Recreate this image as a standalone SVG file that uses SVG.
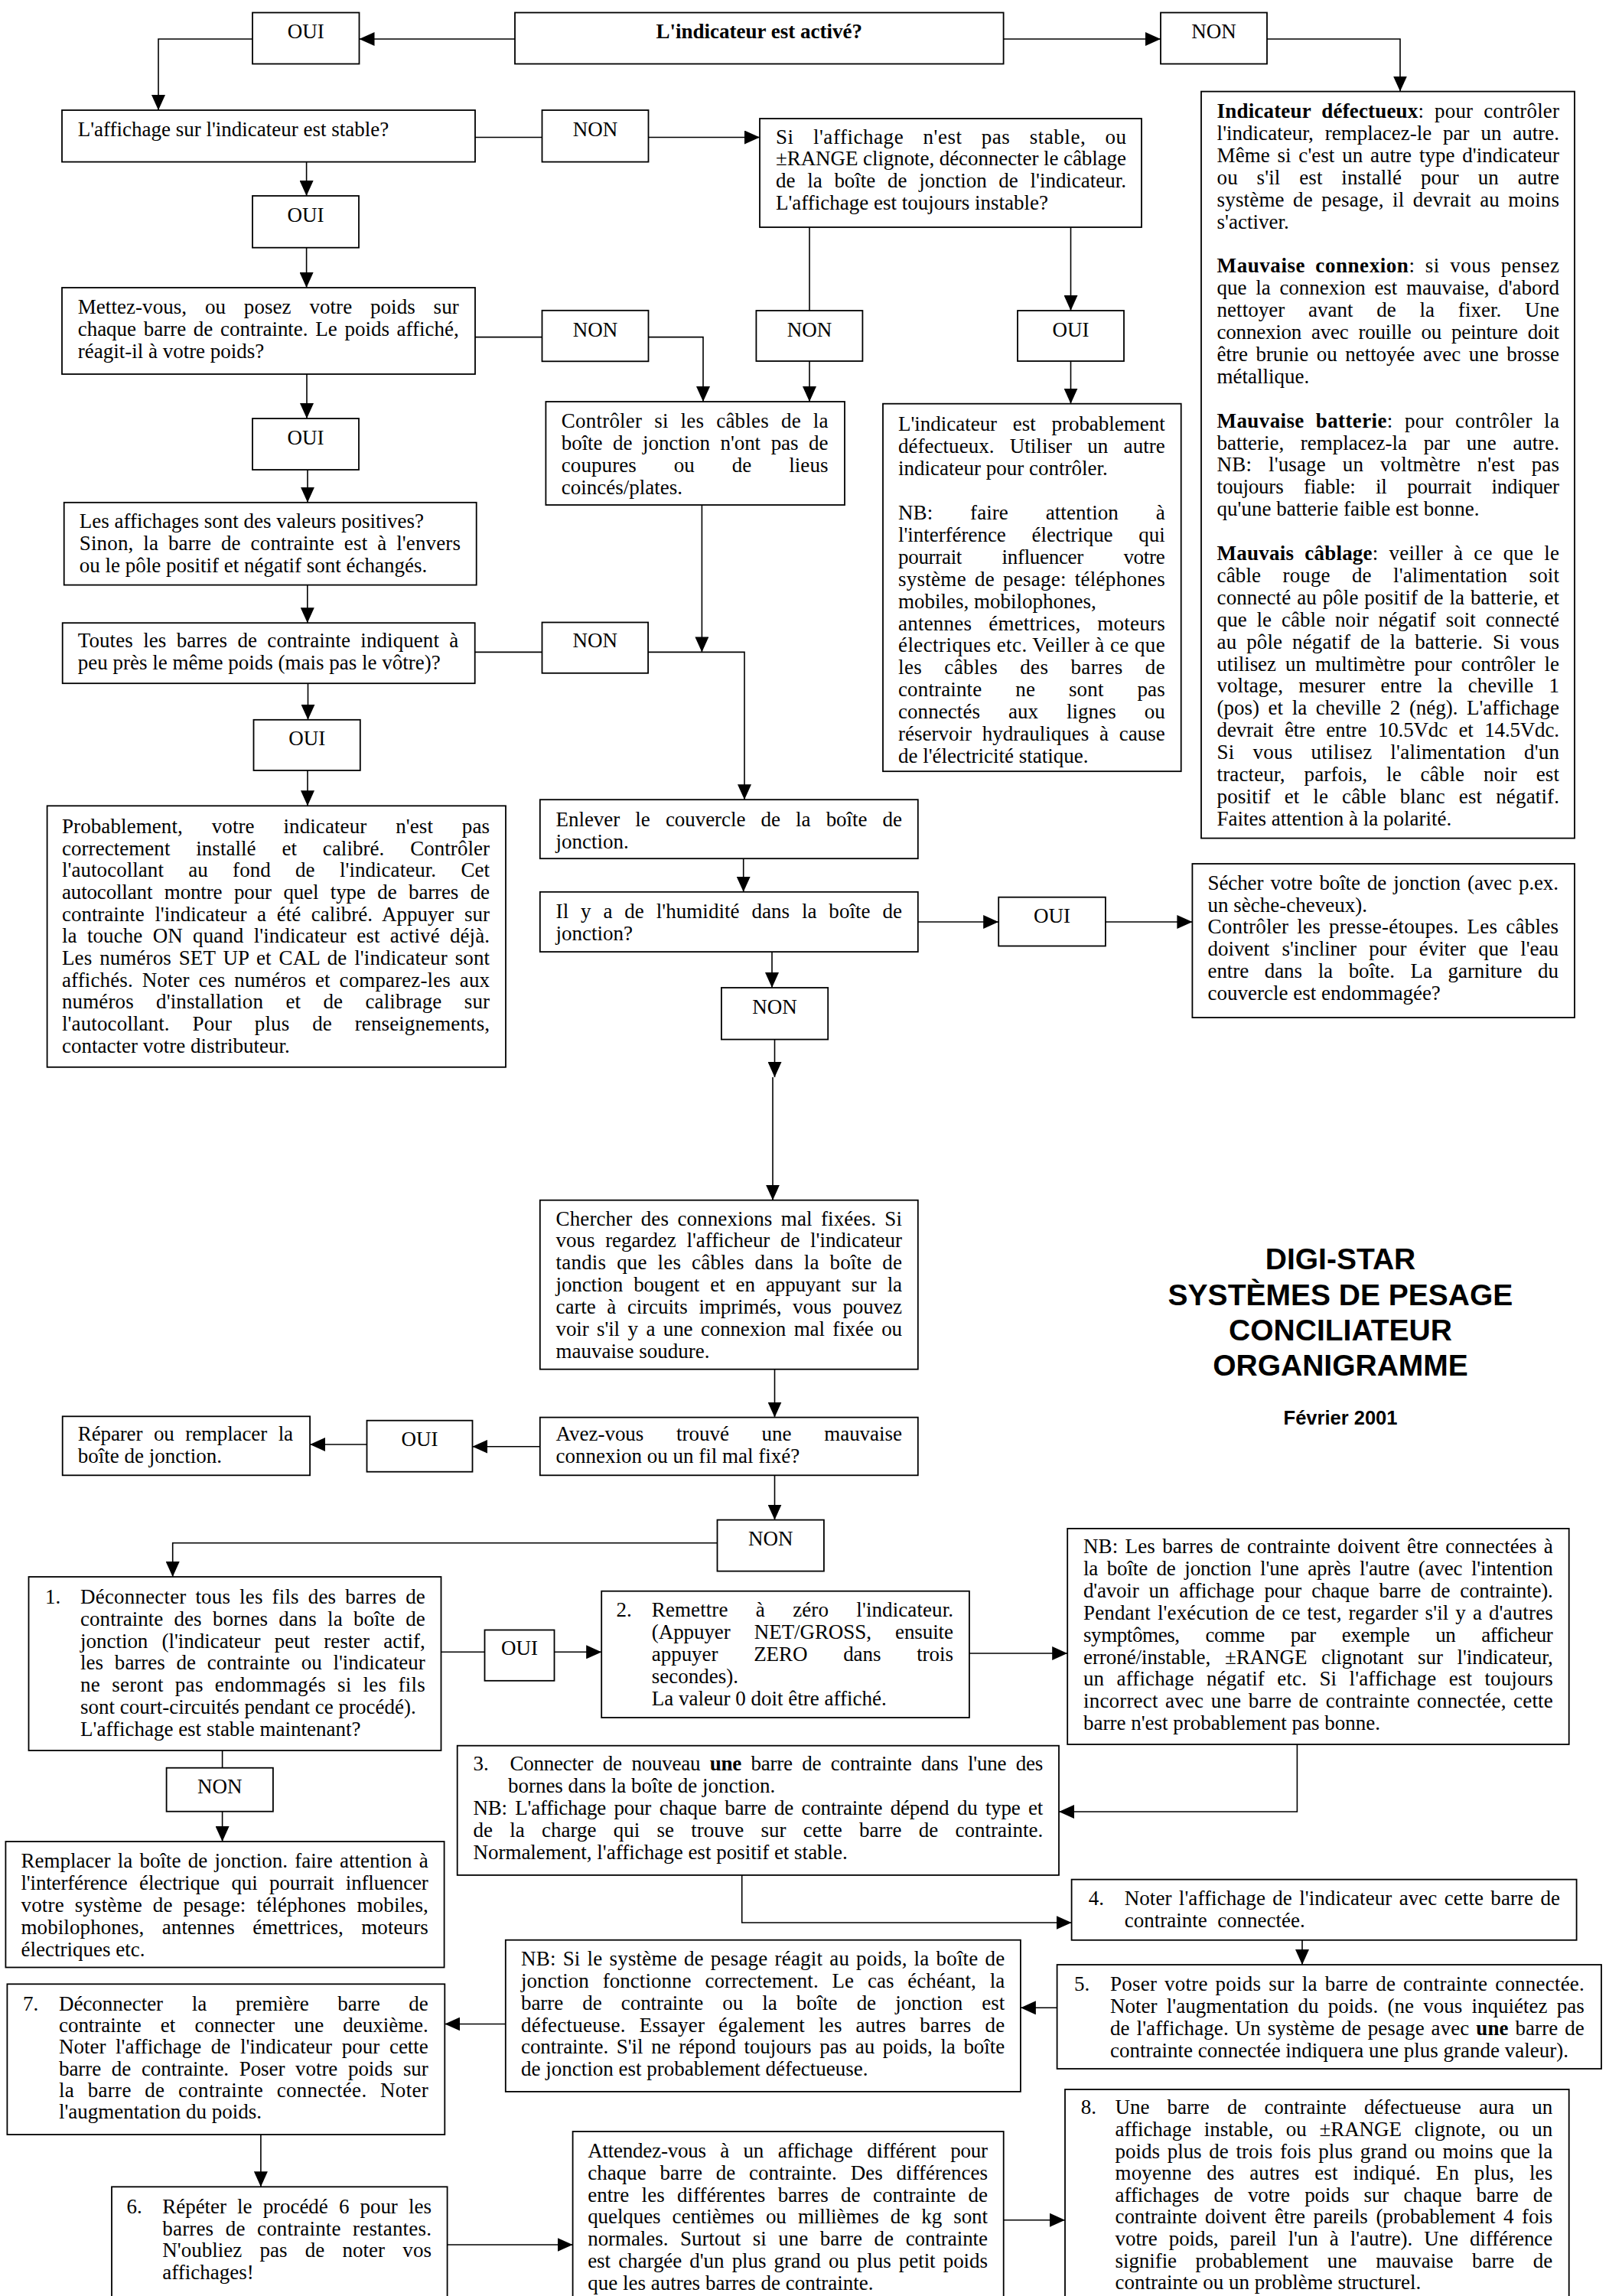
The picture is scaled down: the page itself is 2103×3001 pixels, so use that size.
<svg xmlns="http://www.w3.org/2000/svg" width="2103" height="3001" viewBox="0 0 2103 3001">
<defs>
<style>
.b{fill:#fff;stroke:#000;stroke-width:1.8}
.t{font-family:"Liberation Serif","Times New Roman",serif;font-size:27px;fill:#000}
.c{text-anchor:middle}
.bd{font-weight:bold}
.k{fill:none;stroke:#000;stroke-width:1.6}
.a{marker-end:url(#ah)}
.h{font-family:"Liberation Sans",Arial,sans-serif;font-weight:bold;fill:#000;text-anchor:middle}
</style>
<marker id="ah" markerUnits="userSpaceOnUse" markerWidth="20" markerHeight="18" refX="20" refY="9" orient="auto">
<path d="M0,0 L20,9 L0,18 Z" fill="#000"/>
</marker>
</defs>
<rect width="2103" height="3001" fill="#fff"/>

<g id="connectors">
<path class="k a" d="M673,51 H469.5"/>
<path class="k a" d="M330,51 H207 V144"/>
<path class="k a" d="M1311.6,51 H1517"/>
<path class="k a" d="M1656,51 H1830 V119.6"/>
<path class="k" d="M621,179.5 H708.5"/>
<path class="k a" d="M847.5,179.5 H993"/>
<path class="k a" d="M400.6,211.6 V256"/>
<path class="k a" d="M400.6,323.7 V376"/>
<path class="k" d="M621,440.6 H708.5"/>
<path class="k a" d="M847.5,440.6 H919 V525"/>
<path class="k" d="M1058,297 V406"/>
<path class="k a" d="M1058,472 V525"/>
<path class="k a" d="M1399.5,297 V406"/>
<path class="k a" d="M1399.5,472 V527.7"/>
<path class="k a" d="M401,489 V547"/>
<path class="k a" d="M402,614 V656.8"/>
<path class="k a" d="M401.8,764.6 V814.2"/>
<path class="k" d="M620.8,852.4 H708.5"/>
<path class="k a" d="M847,852.4 H973 V1045.2"/>
<path class="k a" d="M917.4,660 V852.4"/>
<path class="k a" d="M402.5,893.2 V940.8"/>
<path class="k a" d="M402,1007 V1053.3"/>
<path class="k a" d="M971.7,1122.2 V1165.8"/>
<path class="k a" d="M1199.8,1205 H1305.2"/>
<path class="k a" d="M1445,1205 H1558.4"/>
<path class="k a" d="M1009,1244 V1291"/>
<path class="k a" d="M1012.5,1358.6 V1408"/>
<path class="k a" d="M1010,1408 V1568.7"/>
<path class="k a" d="M1012.5,1789.7 V1852.6"/>
<path class="k a" d="M705.8,1890.8 H617.4"/>
<path class="k a" d="M479.5,1888 H405.1"/>
<path class="k a" d="M1012.5,1928.3 V1986.6"/>
<path class="k a" d="M937.5,2016.7 H225.7 V2061"/>
<path class="k" d="M576.6,2159.3 H633.5"/>
<path class="k a" d="M724.6,2159.3 H786.2"/>
<path class="k a" d="M1266.9,2161 H1395.2"/>
<path class="k a" d="M1695.4,2280 V2368 H1384"/>
<path class="k" d="M290.6,2288 V2310.7"/>
<path class="k a" d="M290.6,2367.6 V2407"/>
<path class="k a" d="M969.7,2450.9 V2513 H1400.6"/>
<path class="k a" d="M1702,2535.8 V2568"/>
<path class="k a" d="M1381.6,2624.3 H1333.9"/>
<path class="k a" d="M660.8,2645.5 H581.3"/>
<path class="k a" d="M340.9,2790 V2858.3"/>
<path class="k a" d="M584.6,2934 H748.6"/>
<path class="k a" d="M1311.7,2901.7 H1392"/>
</g>

<g id="q-active">
<rect class="b" x="673" y="16.5" width="638.6" height="67"/>
<text class="t c bd" x="992.3" y="50">L'indicateur est activé?</text>
</g>
<g id="oui1"><rect class="b" x="330" y="16.5" width="139.5" height="67"/><text class="t c" x="399.7" y="50">OUI</text></g>
<g id="non1"><rect class="b" x="1517" y="16.5" width="139" height="67"/><text class="t c" x="1586.5" y="50">NON</text></g>

<g id="causes">
<rect class="b" x="1570" y="119.6" width="488" height="976"/>
<text class="t" x="1590.6" y="154" textLength="447.4" lengthAdjust="spacing" word-spacing="7"><tspan class="bd">Indicateur défectueux</tspan>: pour contrôler</text>
<text class="t" x="1590.6" y="182.9" textLength="447.4" lengthAdjust="spacing" word-spacing="8">l'indicateur, remplacez-le par un autre.</text>
<text class="t" x="1590.6" y="211.8" textLength="447.4" lengthAdjust="spacing" word-spacing="3">Même si c'est un autre type d'indicateur</text>
<text class="t" x="1590.6" y="240.7" textLength="447.4" lengthAdjust="spacing" word-spacing="18">ou s'il est installé pour un autre</text>
<text class="t" x="1590.6" y="269.6" textLength="447.4" lengthAdjust="spacing" word-spacing="4.5">système de pesage, il devrait au moins</text>
<text class="t" x="1590.6" y="298.5">s'activer.</text>
<text class="t" x="1590.6" y="356.3" textLength="447.4" lengthAdjust="spacing" word-spacing="6"><tspan class="bd">Mauvaise connexion</tspan>: si vous pensez</text>
<text class="t" x="1590.6" y="385.2" textLength="447.4" lengthAdjust="spacing" word-spacing="5">que la connexion est mauvaise, d'abord</text>
<text class="t" x="1590.6" y="414.1" textLength="447.4" lengthAdjust="spacing" word-spacing="24">nettoyer avant de la fixer. Une</text>
<text class="t" x="1590.6" y="443" textLength="447.4" lengthAdjust="spacing" word-spacing="6.5">connexion avec rouille ou peinture doit</text>
<text class="t" x="1590.6" y="471.9" textLength="447.4" lengthAdjust="spacing" word-spacing="4">être brunie ou nettoyée avec une brosse</text>
<text class="t" x="1590.6" y="500.8">métallique.</text>
<text class="t" x="1590.6" y="558.6" textLength="447.4" lengthAdjust="spacing" word-spacing="8"><tspan class="bd">Mauvaise batterie</tspan>: pour contrôler la</text>
<text class="t" x="1590.6" y="587.5" textLength="447.4" lengthAdjust="spacing" word-spacing="15">batterie, remplacez-la par une autre.</text>
<text class="t" x="1590.6" y="616.4" textLength="447.4" lengthAdjust="spacing" word-spacing="15">NB: l'usage un voltmètre n'est pas</text>
<text class="t" x="1590.6" y="645.3" textLength="447.4" lengthAdjust="spacing" word-spacing="20">toujours fiable: il pourrait indiquer</text>
<text class="t" x="1590.6" y="674.2">qu'une batterie faible est bonne.</text>
<text class="t" x="1590.6" y="732" textLength="447.4" lengthAdjust="spacing" word-spacing="7"><tspan class="bd">Mauvais câblage</tspan>: veiller à ce que le</text>
<text class="t" x="1590.6" y="760.9" textLength="447.4" lengthAdjust="spacing" word-spacing="21.5">câble rouge de l'alimentation soit</text>
<text class="t" x="1590.6" y="789.8" textLength="447.4" lengthAdjust="spacing" word-spacing="1">connecté au pôle positif de la batterie, et</text>
<text class="t" x="1590.6" y="818.7" textLength="447.4" lengthAdjust="spacing" word-spacing="6">que le câble noir négatif soit connecté</text>
<text class="t" x="1590.6" y="847.6" textLength="447.4" lengthAdjust="spacing" word-spacing="6">au pôle négatif de la batterie. Si vous</text>
<text class="t" x="1590.6" y="876.5" textLength="447.4" lengthAdjust="spacing" word-spacing="5.5">utilisez un multimètre pour contrôler le</text>
<text class="t" x="1590.6" y="905.4" textLength="447.4" lengthAdjust="spacing" word-spacing="13.5">voltage, mesurer entre la cheville 1</text>
<text class="t" x="1590.6" y="934.3" textLength="447.4" lengthAdjust="spacing" word-spacing="5">(pos) et la cheville 2 (nég). L'affichage</text>
<text class="t" x="1590.6" y="963.2" textLength="447.4" lengthAdjust="spacing" word-spacing="8">devrait être entre 10.5Vdc et 14.5Vdc.</text>
<text class="t" x="1590.6" y="992.1" textLength="447.4" lengthAdjust="spacing" word-spacing="17">Si vous utilisez l'alimentation d'un</text>
<text class="t" x="1590.6" y="1021" textLength="447.4" lengthAdjust="spacing" word-spacing="18">tracteur, parfois, le câble noir est</text>
<text class="t" x="1590.6" y="1049.9" textLength="447.4" lengthAdjust="spacing" word-spacing="11">positif et le câble blanc est négatif.</text>
<text class="t" x="1590.6" y="1078.8">Faites attention à la polarité.</text>
</g>

<g id="q-stable">
<rect class="b" x="81" y="144" width="540" height="67.6"/>
<text class="t" x="101.7" y="177.7">L'affichage sur l'indicateur est stable?</text>
</g>
<g id="non2"><rect class="b" x="708.5" y="144" width="139" height="67.6"/><text class="t c" x="778" y="177.7">NON</text></g>

<g id="q-instable">
<rect class="b" x="993" y="155" width="499" height="142"/>
<text class="t" x="1014" y="187.5" textLength="458" lengthAdjust="spacing" word-spacing="18">Si l'affichage n'est pas stable, ou</text>
<text class="t" x="1014" y="216.4" textLength="458" lengthAdjust="spacing">±RANGE clignote, déconnecter le câblage</text>
<text class="t" x="1014" y="245.3" textLength="458" lengthAdjust="spacing" word-spacing="9">de la boîte de jonction de l'indicateur.</text>
<text class="t" x="1014" y="274.2">L'affichage est toujours instable?</text>
</g>

<g id="oui2"><rect class="b" x="330" y="256" width="139" height="67.7"/><text class="t c" x="399.5" y="290">OUI</text></g>

<g id="q-poids">
<rect class="b" x="81" y="376" width="540" height="113"/>
<text class="t" x="101.7" y="409.8" textLength="498" lengthAdjust="spacing" word-spacing="17">Mettez-vous, ou posez votre poids sur</text>
<text class="t" x="101.7" y="438.7" textLength="498" lengthAdjust="spacing" word-spacing="3">chaque barre de contrainte. Le poids affiché,</text>
<text class="t" x="101.7" y="467.6">réagit-il à votre poids?</text>
</g>
<g id="non3"><rect class="b" x="708.5" y="405.8" width="139" height="66.5"/><text class="t c" x="778" y="439.5">NON</text></g>
<g id="non4"><rect class="b" x="988.4" y="406" width="139" height="66"/><text class="t c" x="1058" y="439.5">NON</text></g>
<g id="oui5"><rect class="b" x="1330" y="406" width="139" height="66"/><text class="t c" x="1399.5" y="439.5">OUI</text></g>

<g id="controler-cables">
<rect class="b" x="713.4" y="525" width="390.6" height="135"/>
<text class="t" x="733.8" y="559" textLength="348.7" lengthAdjust="spacing" word-spacing="9">Contrôler si les câbles de la</text>
<text class="t" x="733.8" y="588" textLength="348.7" lengthAdjust="spacing" word-spacing="7">boîte de jonction n'ont pas de</text>
<text class="t" x="733.8" y="617" textLength="348.7" lengthAdjust="spacing" word-spacing="42">coupures ou de lieus</text>
<text class="t" x="733.8" y="646">coincés/plates.</text>
</g>

<g id="indicateur-defectueux">
<rect class="b" x="1154" y="527.7" width="389.7" height="480.5"/>
<text class="t" x="1174" y="563.4" textLength="348.7" lengthAdjust="spacing" word-spacing="14">L'indicateur est probablement</text>
<text class="t" x="1174" y="592.3" textLength="348.7" lengthAdjust="spacing" word-spacing="13.5">défectueux. Utiliser un autre</text>
<text class="t" x="1174" y="621.2">indicateur pour contrôler.</text>
<text class="t" x="1174" y="679" textLength="348.7" lengthAdjust="spacing" word-spacing="42">NB: faire attention à</text>
<text class="t" x="1174" y="707.9" textLength="348.7" lengthAdjust="spacing" word-spacing="27">l'interférence électrique qui</text>
<text class="t" x="1174" y="736.8" textLength="348.7" lengthAdjust="spacing" word-spacing="46">pourrait influencer votre</text>
<text class="t" x="1174" y="765.7" textLength="348.7" lengthAdjust="spacing" word-spacing="4">système de pesage: téléphones</text>
<text class="t" x="1174" y="794.6">mobiles, mobilophones,</text>
<text class="t" x="1174" y="823.5" textLength="348.7" lengthAdjust="spacing" word-spacing="15">antennes émettrices, moteurs</text>
<text class="t" x="1174" y="852.4" textLength="348.7" lengthAdjust="spacing">électriques etc. Veiller à ce que</text>
<text class="t" x="1174" y="881.3" textLength="348.7" lengthAdjust="spacing" word-spacing="22">les câbles des barres de</text>
<text class="t" x="1174" y="910.2" textLength="348.7" lengthAdjust="spacing" word-spacing="37">contrainte ne sont pas</text>
<text class="t" x="1174" y="939.1" textLength="348.7" lengthAdjust="spacing" word-spacing="30">connectés aux lignes ou</text>
<text class="t" x="1174" y="968" textLength="348.7" lengthAdjust="spacing" word-spacing="7">réservoir hydrauliques à cause</text>
<text class="t" x="1174" y="996.9">de l'électricité statique.</text>
</g>

<g id="oui6"><rect class="b" x="330" y="547" width="139" height="67"/><text class="t c" x="399.5" y="580.5">OUI</text></g>

<g id="q-positives">
<rect class="b" x="83.7" y="656.8" width="539" height="107.8"/>
<text class="t" x="103.8" y="690">Les affichages sont des valeurs positives?</text>
<text class="t" x="103.8" y="719" textLength="498.2" lengthAdjust="spacing" word-spacing="6">Sinon, la barre de contrainte est à l'envers</text>
<text class="t" x="103.8" y="747.5">ou le pôle positif et négatif sont échangés.</text>
</g>

<g id="q-meme-poids">
<rect class="b" x="81.7" y="814.2" width="539" height="79"/>
<text class="t" x="101.8" y="846.3" textLength="497.5" lengthAdjust="spacing" word-spacing="6.5">Toutes les barres de contrainte indiquent à</text>
<text class="t" x="101.8" y="875.2">peu près le même poids (mais pas le vôtre)?</text>
</g>
<g id="non7"><rect class="b" x="708.5" y="813.5" width="138.6" height="66.3"/><text class="t c" x="777.8" y="846.3">NON</text></g>
<g id="oui8"><rect class="b" x="331.5" y="940.8" width="139.3" height="66.2"/><text class="t c" x="401.2" y="973.6">OUI</text></g>

<g id="calibrage">
<rect class="b" x="61.6" y="1053.3" width="599.4" height="341.5"/>
<text class="t" x="81" y="1088.8" textLength="559" lengthAdjust="spacing" word-spacing="31">Probablement, votre indicateur n'est pas</text>
<text class="t" x="81" y="1117.5" textLength="559" lengthAdjust="spacing" word-spacing="27">correctement installé et calibré. Contrôler</text>
<text class="t" x="81" y="1146.2" textLength="559" lengthAdjust="spacing" word-spacing="25.5">l'autocollant au fond de l'indicateur. Cet</text>
<text class="t" x="81" y="1174.9" textLength="559" lengthAdjust="spacing" word-spacing="9">autocollant montre pour quel type de barres de</text>
<text class="t" x="81" y="1203.6" textLength="559" lengthAdjust="spacing" word-spacing="7">contrainte l'indicateur a été calibré. Appuyer sur</text>
<text class="t" x="81" y="1232.3" textLength="559" lengthAdjust="spacing" word-spacing="6.5">la touche ON quand l'indicateur est activé déjà.</text>
<text class="t" x="81" y="1261" textLength="559" lengthAdjust="spacing" word-spacing="3">Les numéros SET UP et CAL de l'indicateur sont</text>
<text class="t" x="81" y="1289.7" textLength="559" lengthAdjust="spacing" word-spacing="5">affichés. Noter ces numéros et comparez-les aux</text>
<text class="t" x="81" y="1318.4" textLength="559" lengthAdjust="spacing" word-spacing="22.5">numéros d'installation et de calibrage sur</text>
<text class="t" x="81" y="1347.1" textLength="559" lengthAdjust="spacing" word-spacing="23">l'autocollant. Pour plus de renseignements,</text>
<text class="t" x="81" y="1375.8">contacter votre distributeur.</text>
</g>

<g id="enlever">
<rect class="b" x="705.8" y="1045.2" width="494" height="77"/>
<text class="t" x="726.6" y="1080" textLength="452.4" lengthAdjust="spacing" word-spacing="13.5">Enlever le couvercle de la boîte de</text>
<text class="t" x="726.6" y="1109">jonction.</text>
</g>

<g id="q-humidite">
<rect class="b" x="705.8" y="1165.8" width="494" height="78.3"/>
<text class="t" x="726.6" y="1200" textLength="452.4" lengthAdjust="spacing" word-spacing="9">Il y a de l'humidité dans la boîte de</text>
<text class="t" x="726.6" y="1229">jonction?</text>
</g>
<g id="oui10"><rect class="b" x="1305.2" y="1172.7" width="139.7" height="63.8"/><text class="t c" x="1375" y="1205.6">OUI</text></g>

<g id="secher">
<rect class="b" x="1558.4" y="1129" width="499.6" height="201"/>
<text class="t" x="1578.5" y="1162.6" textLength="458.5" lengthAdjust="spacing" word-spacing="2.5">Sécher votre boîte de jonction (avec p.ex.</text>
<text class="t" x="1578.5" y="1191.5">un sèche-cheveux).</text>
<text class="t" x="1578.5" y="1220.4" textLength="458.5" lengthAdjust="spacing" word-spacing="4">Contrôler les presse-étoupes. Les câbles</text>
<text class="t" x="1578.5" y="1249.3" textLength="458.5" lengthAdjust="spacing" word-spacing="9.5">doivent s'incliner pour éviter que l'eau</text>
<text class="t" x="1578.5" y="1278.2" textLength="458.5" lengthAdjust="spacing" word-spacing="14">entre dans la boîte. La garniture du</text>
<text class="t" x="1578.5" y="1307.1">couvercle est endommagée?</text>
</g>

<g id="non9"><rect class="b" x="942.9" y="1291" width="139.3" height="67.6"/><text class="t c" x="1012.5" y="1324.5">NON</text></g>

<g id="chercher">
<rect class="b" x="705.8" y="1568.7" width="494" height="221"/>
<text class="t" x="726.6" y="1601.5" textLength="452.4" lengthAdjust="spacing" word-spacing="4.5">Chercher des connexions mal fixées. Si</text>
<text class="t" x="726.6" y="1630.4" textLength="452.4" lengthAdjust="spacing" word-spacing="7">vous regardez l'afficheur de l'indicateur</text>
<text class="t" x="726.6" y="1659.3" textLength="452.4" lengthAdjust="spacing" word-spacing="7">tandis que les câbles dans la boîte de</text>
<text class="t" x="726.6" y="1688.2" textLength="452.4" lengthAdjust="spacing" word-spacing="7.5">jonction bougent et en appuyant sur la</text>
<text class="t" x="726.6" y="1717.1" textLength="452.4" lengthAdjust="spacing" word-spacing="8">carte à circuits imprimés, vous pouvez</text>
<text class="t" x="726.6" y="1746" textLength="452.4" lengthAdjust="spacing" word-spacing="4">voir s'il y a une connexion mal fixée ou</text>
<text class="t" x="726.6" y="1774.9">mauvaise soudure.</text>
</g>

<g id="title">
<text class="h" x="1752" y="1659.4" font-size="39">DIGI-STAR</text>
<text class="h" x="1752" y="1705.5" font-size="39">SYSTÈMES DE PESAGE</text>
<text class="h" x="1752" y="1751.5" font-size="39">CONCILIATEUR</text>
<text class="h" x="1752" y="1798" font-size="39">ORGANIGRAMME</text>
<text class="h" x="1752" y="1862" font-size="25.5">Février 2001</text>
</g>

<g id="q-trouve">
<rect class="b" x="705.8" y="1852.6" width="494" height="75.7"/>
<text class="t" x="726.6" y="1883.4" textLength="452.4" lengthAdjust="spacing" word-spacing="36">Avez-vous trouvé une mauvaise</text>
<text class="t" x="726.6" y="1912.3">connexion ou un fil mal fixé?</text>
</g>
<g id="oui11"><rect class="b" x="479.5" y="1856.7" width="138" height="67"/><text class="t c" x="548.5" y="1890">OUI</text></g>
<g id="reparer">
<rect class="b" x="81.7" y="1851.3" width="323.4" height="77"/>
<text class="t" x="101.8" y="1883.4" textLength="281.2" lengthAdjust="spacing" word-spacing="8">Réparer ou remplacer la</text>
<text class="t" x="101.8" y="1912.3">boîte de jonction.</text>
</g>
<g id="non12"><rect class="b" x="937.5" y="1986.6" width="139.4" height="67"/><text class="t c" x="1007.2" y="2020">NON</text></g>

<g id="step1">
<rect class="b" x="37.5" y="2061" width="539" height="227"/>
<text class="t" x="58.9" y="2095.7">1.</text>
<text class="t" x="105.1" y="2095.7" textLength="450.7" lengthAdjust="spacing" word-spacing="5">Déconnecter tous les fils des barres de</text>
<text class="t" x="105.1" y="2124.6" textLength="450.7" lengthAdjust="spacing" word-spacing="7.5">contrainte des bornes dans la boîte de</text>
<text class="t" x="105.1" y="2153.5" textLength="450.7" lengthAdjust="spacing" word-spacing="11.5">jonction (l'indicateur peut rester actif,</text>
<text class="t" x="105.1" y="2182.4" textLength="450.7" lengthAdjust="spacing" word-spacing="8">les barres de contrainte ou l'indicateur</text>
<text class="t" x="105.1" y="2211.3" textLength="450.7" lengthAdjust="spacing" word-spacing="8">ne seront pas endommagés si les fils</text>
<text class="t" x="105.1" y="2240.2">sont court-circuités pendant ce procédé).</text>
<text class="t" x="105.1" y="2269.1">L'affichage est stable maintenant?</text>
</g>
<g id="oui13"><rect class="b" x="633.5" y="2130.5" width="91" height="66.3"/><text class="t c" x="679" y="2162.7">OUI</text></g>

<g id="step2">
<rect class="b" x="786.2" y="2079.7" width="480.7" height="165.3"/>
<text class="t" x="805.6" y="2113">2.</text>
<text class="t" x="851.8" y="2113" textLength="394.2" lengthAdjust="spacing" word-spacing="29.5">Remettre à zéro l'indicateur.</text>
<text class="t" x="851.8" y="2141.9" textLength="394.2" lengthAdjust="spacing" word-spacing="24.5">(Appuyer NET/GROSS, ensuite</text>
<text class="t" x="851.8" y="2170.8" textLength="394.2" lengthAdjust="spacing" word-spacing="40">appuyer ZERO dans trois</text>
<text class="t" x="851.8" y="2199.7">secondes).</text>
<text class="t" x="851.8" y="2228.6">La valeur 0 doit être affiché.</text>
</g>

<g id="nb-connexion">
<rect class="b" x="1395.2" y="1997.9" width="655.5" height="282.1"/>
<text class="t" x="1416" y="2030" textLength="613.8" lengthAdjust="spacing" word-spacing="2.5">NB: Les barres de contrainte doivent être connectées à</text>
<text class="t" x="1416" y="2058.9" textLength="613.8" lengthAdjust="spacing" word-spacing="5">la boîte de jonction l'une après l'autre (avec l'intention</text>
<text class="t" x="1416" y="2087.8" textLength="613.8" lengthAdjust="spacing" word-spacing="6.5">d'avoir un affichage pour chaque barre de contrainte).</text>
<text class="t" x="1416" y="2116.7" textLength="613.8" lengthAdjust="spacing" word-spacing="2">Pendant l'exécution de ce test, regarder s'il y a d'autres</text>
<text class="t" x="1416" y="2145.6" textLength="613.8" lengthAdjust="spacing" word-spacing="27.5">symptômes, comme par exemple un afficheur</text>
<text class="t" x="1416" y="2174.5" textLength="613.8" lengthAdjust="spacing" word-spacing="12">erroné/instable, ±RANGE clignotant sur l'indicateur,</text>
<text class="t" x="1416" y="2203.4" textLength="613.8" lengthAdjust="spacing" word-spacing="9.5">un affichage négatif etc. Si l'affichage est toujours</text>
<text class="t" x="1416" y="2232.3" textLength="613.8" lengthAdjust="spacing" word-spacing="2.5">incorrect avec une barre de contrainte connectée, cette</text>
<text class="t" x="1416" y="2261.2">barre n'est probablement pas bonne.</text>
</g>

<g id="non14"><rect class="b" x="217.6" y="2310.7" width="139.3" height="57"/><text class="t c" x="287.2" y="2343.5">NON</text></g>

<g id="remplacer">
<rect class="b" x="7.4" y="2407" width="573.2" height="164.5"/>
<text class="t" x="27.5" y="2440.6" textLength="532.3" lengthAdjust="spacing" word-spacing="2.5">Remplacer la boîte de jonction. faire attention à</text>
<text class="t" x="27.5" y="2469.8" textLength="532.3" lengthAdjust="spacing" word-spacing="9">l'interférence électrique qui pourrait influencer</text>
<text class="t" x="27.5" y="2499" textLength="532.3" lengthAdjust="spacing" word-spacing="7">votre système de pesage: téléphones mobiles,</text>
<text class="t" x="27.5" y="2528.2" textLength="532.3" lengthAdjust="spacing" word-spacing="16.5">mobilophones, antennes émettrices, moteurs</text>
<text class="t" x="27.5" y="2557.4">électriques etc.</text>
</g>

<g id="step3">
<rect class="b" x="597.7" y="2281.7" width="786.3" height="169.2"/>
<text class="t" x="618.4" y="2314.3">3.</text>
<text class="t" x="666.5" y="2314.3" textLength="696.8" lengthAdjust="spacing" word-spacing="6">Connecter de nouveau <tspan class="bd">une</tspan> barre de contrainte dans l'une des</text>
<text class="t" x="663.9" y="2343.2">bornes dans la boîte de jonction.</text>
<text class="t" x="618.4" y="2372.1" textLength="744.9" lengthAdjust="spacing" word-spacing="4">NB: L'affichage pour chaque barre de contrainte dépend du type et</text>
<text class="t" x="618.4" y="2401" textLength="744.9" lengthAdjust="spacing" word-spacing="15.5">de la charge qui se trouve sur cette barre de contrainte.</text>
<text class="t" x="618.4" y="2429.9">Normalement, l'affichage est positif et stable.</text>
</g>

<g id="step4">
<rect class="b" x="1400.6" y="2456.6" width="660" height="79.2"/>
<text class="t" x="1422.7" y="2490.2">4.</text>
<text class="t" x="1469.7" y="2490.2" textLength="569.3" lengthAdjust="spacing" word-spacing="2.5">Noter l'affichage de l'indicateur avec cette barre de</text>
<text class="t" x="1469.7" y="2519" xml:space="preserve">contrainte  connectée.</text>
</g>

<g id="step5">
<rect class="b" x="1381.6" y="2568" width="711.4" height="136"/>
<text class="t" x="1404" y="2602">5.</text>
<text class="t" x="1451" y="2602" textLength="619.8" lengthAdjust="spacing" word-spacing="3">Poser votre poids sur la barre de contrainte connectée.</text>
<text class="t" x="1451" y="2630.9" textLength="619.8" lengthAdjust="spacing" word-spacing="5.5">Noter l'augmentation du poids. (ne vous inquiétez pas</text>
<text class="t" x="1451" y="2659.8" textLength="619.8" lengthAdjust="spacing" word-spacing="2">de l'affichage. Un système de pesage avec <tspan class="bd">une</tspan> barre de</text>
<text class="t" x="1451" y="2688.7">contrainte connectée indiquera une plus grande valeur).</text>
</g>

<g id="nb-reagit">
<rect class="b" x="660.8" y="2535.7" width="673.1" height="198.2"/>
<text class="t" x="681" y="2568.8" textLength="632.2" lengthAdjust="spacing" word-spacing="2">NB: Si le système de pesage réagit au poids, la boîte de</text>
<text class="t" x="681" y="2597.7" textLength="632.2" lengthAdjust="spacing" word-spacing="11">jonction fonctionne correctement. Le cas échéant, la</text>
<text class="t" x="681" y="2626.6" textLength="632.2" lengthAdjust="spacing" word-spacing="18.5">barre de contrainte ou la boîte de jonction est</text>
<text class="t" x="681" y="2655.5" textLength="632.2" lengthAdjust="spacing" word-spacing="11">défectueuse. Essayer également les autres barres de</text>
<text class="t" x="681" y="2684.4" textLength="632.2" lengthAdjust="spacing" word-spacing="4">contrainte. S'il ne répond toujours pas au poids, la boîte</text>
<text class="t" x="681" y="2713.3">de jonction est probablement défectueuse.</text>
</g>

<g id="step7">
<rect class="b" x="9.4" y="2593.3" width="571.9" height="196.7"/>
<text class="t" x="30" y="2627.7">7.</text>
<text class="t" x="77" y="2627.7" textLength="482.8" lengthAdjust="spacing" word-spacing="31">Déconnecter la première barre de</text>
<text class="t" x="77" y="2656" textLength="482.8" lengthAdjust="spacing" word-spacing="18.5">contrainte et connecter une deuxième.</text>
<text class="t" x="77" y="2684.3" textLength="482.8" lengthAdjust="spacing" word-spacing="6">Noter l'affichage de l'indicateur pour cette</text>
<text class="t" x="77" y="2712.6" textLength="482.8" lengthAdjust="spacing" word-spacing="7">barre de contrainte. Poser votre poids sur</text>
<text class="t" x="77" y="2740.9" textLength="482.8" lengthAdjust="spacing" word-spacing="10.5">la barre de contrainte connectée. Noter</text>
<text class="t" x="77" y="2769.2">l'augmentation du poids.</text>
</g>

<g id="step6">
<rect class="b" x="146" y="2858.3" width="438.6" height="160"/>
<text class="t" x="165.4" y="2893.3">6.</text>
<text class="t" x="212.3" y="2893.3" textLength="351.6" lengthAdjust="spacing" word-spacing="7.5">Répéter le procédé 6 pour les</text>
<text class="t" x="212.3" y="2921.7" textLength="351.6" lengthAdjust="spacing" word-spacing="8.5">barres de contrainte restantes.</text>
<text class="t" x="212.3" y="2950.1" textLength="351.6" lengthAdjust="spacing" word-spacing="16.5">N'oubliez pas de noter vos</text>
<text class="t" x="212.3" y="2978.5">affichages!</text>
</g>

<g id="attendez">
<rect class="b" x="748.6" y="2786" width="563.1" height="240"/>
<text class="t" x="768.2" y="2820" textLength="522.8" lengthAdjust="spacing" word-spacing="12">Attendez-vous à un affichage différent pour</text>
<text class="t" x="768.2" y="2848.8" textLength="522.8" lengthAdjust="spacing" word-spacing="11">chaque barre de contrainte. Des différences</text>
<text class="t" x="768.2" y="2877.5" textLength="522.8" lengthAdjust="spacing" word-spacing="9.5">entre les différentes barres de contrainte de</text>
<text class="t" x="768.2" y="2906.3" textLength="522.8" lengthAdjust="spacing" word-spacing="8.5">quelques centièmes ou millièmes de kg sont</text>
<text class="t" x="768.2" y="2935.1" textLength="522.8" lengthAdjust="spacing" word-spacing="9">normales. Surtout si une barre de contrainte</text>
<text class="t" x="768.2" y="2963.8" textLength="522.8" lengthAdjust="spacing" word-spacing="3.5">est chargée d'un plus grand ou plus petit poids</text>
<text class="t" x="768.2" y="2992.6">que les autres barres de contrainte.</text>
</g>

<g id="step8">
<rect class="b" x="1392" y="2731" width="658.7" height="290"/>
<text class="t" x="1412.7" y="2763.3">8.</text>
<text class="t" x="1457.6" y="2763.3" textLength="571.6" lengthAdjust="spacing" word-spacing="16.5">Une barre de contrainte défectueuse aura un</text>
<text class="t" x="1457.6" y="2791.9" textLength="571.6" lengthAdjust="spacing" word-spacing="10">affichage instable, ou ±RANGE clignote, ou un</text>
<text class="t" x="1457.6" y="2820.5" textLength="571.6" lengthAdjust="spacing" word-spacing="3">poids plus de trois fois plus grand ou moins que la</text>
<text class="t" x="1457.6" y="2849.1" textLength="571.6" lengthAdjust="spacing" word-spacing="13">moyenne des autres est indiqué. En plus, les</text>
<text class="t" x="1457.6" y="2877.7" textLength="571.6" lengthAdjust="spacing" word-spacing="12.5">affichages de votre poids sur chaque barre de</text>
<text class="t" x="1457.6" y="2906.3" textLength="571.6" lengthAdjust="spacing" word-spacing="4">contrainte doivent être pareils (probablement 4 fois</text>
<text class="t" x="1457.6" y="2934.9" textLength="571.6" lengthAdjust="spacing" word-spacing="8.5">votre poids, pareil l'un à l'autre). Une différence</text>
<text class="t" x="1457.6" y="2963.5" textLength="571.6" lengthAdjust="spacing" word-spacing="18">signifie probablement une mauvaise barre de</text>
<text class="t" x="1457.6" y="2992.1">contrainte ou un problème structurel.</text>
</g>
</svg>
